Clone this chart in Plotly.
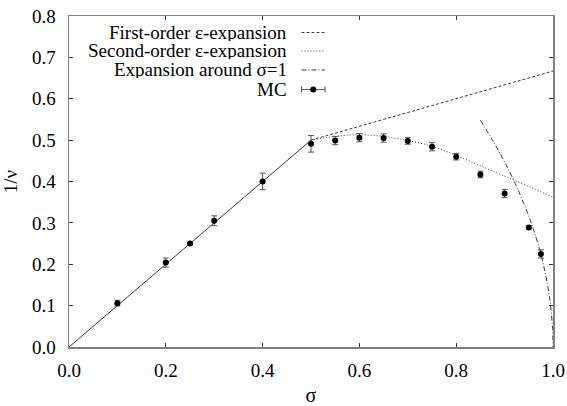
import plotly.graph_objects as go

# MC data
mc_sigma = [0.1, 0.2, 0.25, 0.3, 0.4, 0.5, 0.55, 0.6, 0.65, 0.7, 0.75, 0.8, 0.85, 0.9, 0.95, 0.975]
mc_inv_nu = [0.106, 0.204, 0.250, 0.305, 0.400, 0.491, 0.499, 0.506, 0.505, 0.498, 0.484, 0.460, 0.417, 0.371, 0.289, 0.225]
mc_err = [0.007, 0.011, 0.003, 0.012, 0.020, 0.020, 0.010, 0.010, 0.010, 0.008, 0.010, 0.008, 0.008, 0.010, 0.004, 0.010]

# mean-field line (sigma < 1/2)
mf_sigma = [0.0, 0.5]
mf_inv_nu = [0.0, 0.5]

# first-order epsilon expansion
fo_sigma = [0.5, 1.0]
fo_inv_nu = [0.5, 0.667]

# second-order epsilon expansion
so_sigma = [0.5, 0.55, 0.6, 0.65, 0.7, 0.75, 0.8, 0.85, 0.9, 0.95, 1.0]
so_inv_nu = [0.500, 0.509, 0.513, 0.509, 0.499, 0.485, 0.463, 0.438, 0.413, 0.388, 0.362]

# expansion around sigma = 1
s1_sigma = [0.85, 0.875, 0.9, 0.925, 0.95, 0.96, 0.97, 0.98, 0.99, 0.995, 0.999, 1.0]
s1_inv_nu = [0.548, 0.500, 0.447, 0.387, 0.316, 0.283, 0.245, 0.200, 0.141, 0.100, 0.045, 0.0]

legend_labels = ["First-order \u03b5-expansion", "Second-order \u03b5-expansion",
                 "Expansion around \u03c3=1", "MC"]

x_ticks = [0.0, 0.2, 0.4, 0.6, 0.8, 1.0]
y_ticks = [0.0, 0.1, 0.2, 0.3, 0.4, 0.5, 0.6, 0.7, 0.8]

FONT = "Liberation Serif, Times New Roman, Times, serif"
LINE_COL = "#3a3a3a"

fig = go.Figure()
fig.add_trace(go.Scatter(x=mf_sigma, y=mf_inv_nu, mode="lines",
                         line=dict(color=LINE_COL, width=1), showlegend=False))
fig.add_trace(go.Scatter(x=fo_sigma, y=fo_inv_nu, mode="lines",
                         line=dict(color=LINE_COL, width=1, dash="3px,2px"), showlegend=False))
fig.add_trace(go.Scatter(x=so_sigma, y=so_inv_nu, mode="lines",
                         line=dict(color=LINE_COL, width=1, dash="1px,2px", shape="spline"), showlegend=False))
fig.add_trace(go.Scatter(x=s1_sigma, y=s1_inv_nu, mode="lines",
                         line=dict(color=LINE_COL, width=1, dash="5px,2px,1px,2px", shape="spline"),
                         showlegend=False))
fig.add_trace(go.Scatter(x=mc_sigma, y=mc_inv_nu, mode="markers",
                         marker=dict(color="black", size=6),
                         error_y=dict(type="data", array=mc_err, visible=True,
                                      color="#555555", thickness=1, width=3),
                         showlegend=False))

FIG_W, FIG_H = 567, 406
L, R, T, B = 69, 14, 15.5, 59.3
W, H = FIG_W - L - R, FIG_H - T - B
bottom_px = FIG_H - B

# Legend (text right-aligned, samples to the right), in paper coordinates
text_right = (289 - L) / W
s0, s1 = (301.5 - L) / W, (325 - L) / W
rows_px = [32.0, 50.5, 69.5, 89.0]
dashes = ["3px,2px", "1px,2px", "5px,2px,1px,2px", None]
shapes = []
annotations = []
for lab, rp, d in zip(legend_labels, rows_px, dashes):
    yp = (bottom_px - rp) / H
    annotations.append(dict(text=lab, x=text_right, y=yp, xref="paper", yref="paper",
                            xanchor="right", yanchor="middle", showarrow=False, height=17,
                            font=dict(family=FONT, size=19, color="black")))
    if d is not None:
        shapes.append(dict(type="line", xref="paper", yref="paper", x0=s0, x1=s1, y0=yp, y1=yp,
                           line=dict(color=LINE_COL, width=1, dash=d)))
    else:
        shapes.append(dict(type="line", xref="paper", yref="paper", x0=s0, x1=s1, y0=yp, y1=yp,
                           line=dict(color="#555555", width=1)))
        for xx in (s0, s1):
            shapes.append(dict(type="line", xref="paper", yref="paper", xsizemode="scaled",
                               ysizemode="pixel", yanchor=yp, x0=xx, x1=xx, y0=-3, y1=3,
                               line=dict(color="#555555", width=1)))
        shapes.append(dict(type="circle", xref="paper", yref="paper", xsizemode="pixel",
                           ysizemode="pixel", xanchor=(s0 + s1) / 2, yanchor=yp,
                           x0=-3, x1=3, y0=-3, y1=3, fillcolor="black",
                           line=dict(color="black", width=0)))

axis_common = dict(showgrid=False, zeroline=False, showline=True, mirror="allticks",
                   linecolor="#808080", linewidth=1.5, ticks="inside", ticklen=4,
                   tickcolor="#333333", tickwidth=1, automargin=False,
                   ticklabeloverflow="allow",
                   tickfont=dict(family=FONT, size=19, color="black"))

fig.update_layout(
    width=FIG_W, height=FIG_H,
    margin=dict(l=L, r=R, t=T, b=B, pad=0),
    paper_bgcolor="white", plot_bgcolor="white",
    font=dict(family=FONT),
    hovermode=False,
    xaxis=dict(range=[0, 1], tickvals=x_ticks, ticktext=[f"{v:.1f}" for v in x_ticks],
               title=dict(text="\u03c3", font=dict(family=FONT, size=20, color="black"), standoff=14),
               ticklabelstandoff=6, **axis_common),
    yaxis=dict(range=[0, 0.8], tickvals=y_ticks, ticktext=[f"{v:.1f}" for v in y_ticks],
               title=dict(text="1/\u03bd", font=dict(family=FONT, size=19, color="black"), standoff=10),
               ticklabelstandoff=8, **axis_common),
    shapes=shapes, annotations=annotations,
)

fig.write_html("out.html", config={"displayModeBar": False, "staticPlot": True},
               post_script="document.body.style.margin='0';")
